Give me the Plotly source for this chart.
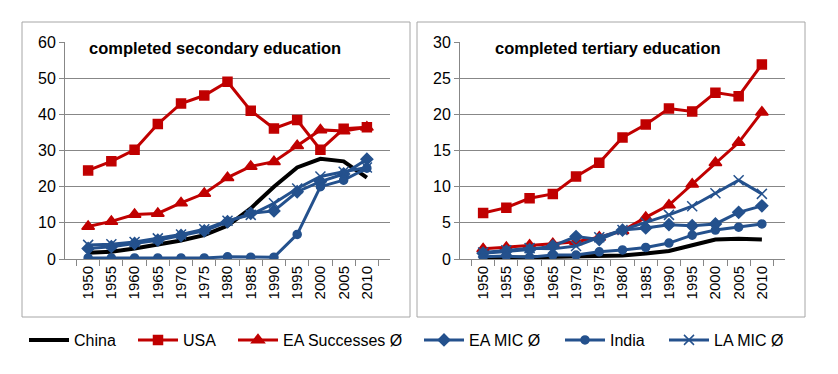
import plotly.graph_objects as go

years = ["1950", "1955", "1960", "1965", "1970", "1975", "1980",
         "1985", "1990", "1995", "2000", "2005", "2010"]

# completed secondary education (%)
sec_china = [1.7, 2.0, 2.9, 3.9, 5.1, 6.6, 9.2, 14.0, 20.0, 25.3, 27.7, 27.0, 22.5]
sec_usa = [24.5, 27.0, 30.2, 37.3, 43.0, 45.2, 49.0, 41.0, 36.1, 38.4, 30.2, 36.0, 36.4]
sec_ea_succ = [9.0, 10.4, 12.3, 12.6, 15.5, 18.1, 22.5, 25.6, 26.9, 31.3, 35.7, 35.4, 36.4]
sec_ea_mic = [2.9, 3.4, 4.3, 5.2, 6.5, 7.8, 10.3, 12.6, 13.3, 18.6, 21.4, 23.5, 27.6]
sec_india = [0.3, 0.3, 0.3, 0.3, 0.3, 0.3, 0.6, 0.5, 0.5, 6.8, 20.0, 21.8, 25.1]
sec_la_mic = [3.9, 4.1, 4.7, 5.7, 6.8, 8.2, 10.6, 12.2, 15.4, 19.5, 22.8, 24.1, 25.3]

# completed tertiary education (%)
ter_china = [0.1, 0.15, 0.2, 0.3, 0.35, 0.45, 0.5, 0.75, 1.1, 1.9, 2.7, 2.8, 2.7]
ter_usa = [6.35, 7.1, 8.4, 9.0, 11.4, 13.3, 16.8, 18.6, 20.8, 20.4, 23.0, 22.5, 26.9]
ter_ea_succ = [1.4, 1.6, 1.9, 2.1, 2.4, 3.0, 3.9, 5.75, 7.45, 10.35, 13.3, 16.1, 20.3]
ter_ea_mic = [0.8, 1.1, 1.3, 1.8, 3.1, 2.7, 4.0, 4.3, 4.75, 4.6, 4.85, 6.45, 7.35]
ter_india = [0.3, 0.4, 0.25, 0.55, 0.55, 1.0, 1.25, 1.6, 2.2, 3.3, 4.0, 4.4, 4.85]
ter_la_mic = [0.9, 1.2, 1.5, 1.4, 1.8, 3.0, 4.0, 5.0, 6.1, 7.3, 9.1, 10.9, 9.0]

names = ["China", "USA", "EA Successes Ø", "EA MIC Ø", "India", "LA MIC Ø"]
titles = ["completed secondary education", "completed tertiary education"]

RED = "#C00000"
BLUE = "#24518D"
GRID = "#878787"
FONT = "Liberation Sans"

styles = [
    dict(color="black", width=4, symbol=None, size=0),
    dict(color=RED, width=3, symbol="square", size=9),
    dict(color=RED, width=3, symbol="triangle-up", size=11),
    dict(color=BLUE, width=3, symbol="diamond", size=9),
    dict(color=BLUE, width=3, symbol="circle", size=8),
    dict(color=BLUE, width=3, symbol="x-thin", size=10),
]

panels = [
    [sec_china, sec_usa, sec_ea_succ, sec_ea_mic, sec_india, sec_la_mic],
    [ter_china, ter_usa, ter_ea_succ, ter_ea_mic, ter_india, ter_la_mic],
]

legend_ids = ["legend", "legend2", "legend3", "legend4", "legend5", "legend6"]
legend_text_x = [74, 183, 283, 469, 610, 714]

fig = go.Figure()
for p, series in enumerate(panels):
    xa = "x" if p == 0 else "x2"
    ya = "y" if p == 0 else "y2"
    for i, vals in enumerate(series):
        st = styles[i]
        if st["symbol"] is None:
            mode = "lines"
            marker = dict()
        else:
            mode = "lines+markers"
            marker = dict(symbol=st["symbol"], size=st["size"], color=st["color"],
                          line=dict(color=st["color"], width=1.5))
        fig.add_trace(go.Scatter(
            x=years, y=vals, mode=mode, name=names[i],
            line=dict(color=st["color"], width=st["width"]),
            marker=marker, xaxis=xa, yaxis=ya,
            showlegend=(p == 0), legendgroup=names[i], legend=legend_ids[i],
        ))

W, H = 838, 374
def px(v):
    return v / W
def py(v):
    return (H - v) / H

axis_common_x = dict(
    type="category", showgrid=False, showline=True, linecolor=GRID, linewidth=1,
    ticks="outside", tickson="boundaries", ticklen=6, tickcolor=GRID,
    tickangle=-90, tickfont=dict(family=FONT, size=15, color="black"),
    zeroline=False, fixedrange=True, automargin=False,
)
axis_common_y = dict(
    showgrid=True, gridcolor=GRID, gridwidth=1, showline=True, linecolor=GRID,
    ticks="outside", ticklen=5, tickcolor=GRID, zeroline=False,
    tickfont=dict(family=FONT, size=16, color="black"), fixedrange=True, automargin=False,
)

legend_layout = {}
for lid, tx in zip(legend_ids, legend_text_x):
    legend_layout[lid] = dict(
        orientation="h", x=px(tx - 50), xanchor="left", y=py(340), yanchor="middle",
        font=dict(family=FONT, size=16, color="black"),
        itemwidth=40, bgcolor="rgba(0,0,0,0)",
    )

fig.update_layout(
    width=W, height=H,
    margin=dict(l=0, r=0, t=0, b=0, autoexpand=False),
    paper_bgcolor="white", plot_bgcolor="white",
    xaxis=dict(domain=[px(65), px(390)], anchor="y", **axis_common_x),
    yaxis=dict(domain=[py(259), py(42)], anchor="x", range=[0, 60], dtick=10, **axis_common_y),
    xaxis2=dict(domain=[px(460), px(785)], anchor="y2", **axis_common_x),
    yaxis2=dict(domain=[py(259), py(42)], anchor="x2", range=[0, 30], dtick=5, **axis_common_y),
    showlegend=True,
    shapes=[
        dict(type="rect", xref="paper", yref="paper", x0=px(22), x1=px(410), y0=py(317), y1=py(22),
             line=dict(color="#A6A6A6", width=1), layer="below"),
        dict(type="rect", xref="paper", yref="paper", x0=px(417), x1=px(805), y0=py(317), y1=py(22),
             line=dict(color="#A6A6A6", width=1), layer="below"),
    ],
    annotations=[
        dict(text="<b>" + titles[0] + "</b>", xref="paper", yref="paper", x=px(87), y=py(48),
             xanchor="left", yanchor="middle", showarrow=False,
             font=dict(family=FONT, size=16.5, color="black")),
        dict(text="<b>" + titles[1] + "</b>", xref="paper", yref="paper", x=px(493), y=py(48),
             xanchor="left", yanchor="middle", showarrow=False,
             font=dict(family=FONT, size=16.5, color="black")),
    ],
    **legend_layout,
)

fig.write_html("out.html", config={"displayModeBar": False},
               post_script="document.body.style.margin='0';")
